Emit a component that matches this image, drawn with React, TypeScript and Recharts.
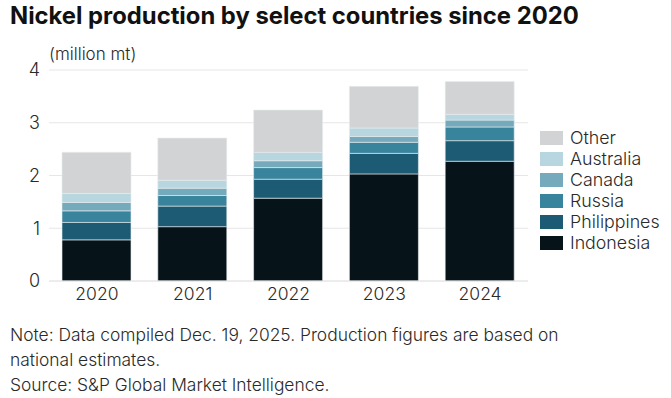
import { BarChart, Bar, XAxis, YAxis, CartesianGrid } from "recharts";

const years = ["2020", "2021", "2022", "2023", "2024"];
const indonesia = [0.78, 1.03, 1.57, 2.03, 2.27];
const philippines = [0.33, 0.39, 0.36, 0.39, 0.39];
const russia = [0.22, 0.2, 0.22, 0.21, 0.26];
const canada = [0.16, 0.14, 0.13, 0.11, 0.13];
const australia = [0.17, 0.15, 0.16, 0.16, 0.11];
const other = [0.78, 0.8, 0.8, 0.79, 0.62];
const yTicks = [0, 1, 2, 3, 4];

const series = [
  { key: "Indonesia", values: indonesia, color: "#061419" },
  { key: "Philippines", values: philippines, color: "#1d5a73" },
  { key: "Russia", values: russia, color: "#38849c" },
  { key: "Canada", values: canada, color: "#74aabb" },
  { key: "Australia", values: australia, color: "#b7d6df" },
  { key: "Other", values: other, color: "#d2d3d5" },
];

const data = years.map((year, i) => {
  const row: Record<string, string | number> = { year };
  series.forEach((s) => {
    row[s.key] = s.values[i];
  });
  return row;
});

const font = "Inter, Roboto, sans-serif";
const textColor = "#2a2a2a";

export default function App() {
  return (
    <div
      style={{
        position: "absolute",
        left: 0,
        top: 0,
        width: 671,
        height: 398,
        background: "#fff",
        fontFamily: font,
        color: textColor,
        fontWeight: 300,
        overflow: "hidden",
      }}
    >
      <div
        style={{
          position: "absolute",
          left: 10,
          top: 1,
          fontSize: 23.8,
          fontWeight: 700,
          color: "#111",
          whiteSpace: "nowrap",
        }}
      >
        Nickel production by select countries since 2020
      </div>
      <div style={{ position: "absolute", left: 49, top: 44, fontSize: 17 }}>
        (million mt)
      </div>

      <div style={{ position: "absolute", left: 0, top: 0 }}>
        <BarChart
          width={540}
          height={310}
          data={data}
          margin={{ top: 70, right: 12, left: 0, bottom: 0 }}
          barSize={69}
        >
          <CartesianGrid vertical={false} stroke="#e6e6e6" strokeWidth={1} />
          <XAxis
            dataKey="year"
            height={29}
            tickLine={false}
            axisLine={{ stroke: "#e6e6e6" }}
            tickSize={0}
            tickMargin={7}
            tick={{ fill: textColor, fontSize: 17.5, fontWeight: 300, fontFamily: font }}
          />
          <YAxis
            width={49}
            domain={[0, 4]}
            ticks={yTicks}
            tickLine={false}
            axisLine={false}
            tickSize={0}
            tickMargin={9}
            tick={{ fill: textColor, fontSize: 18, fontWeight: 300, fontFamily: font }}
          />
          {series.map((s) => (
            <Bar
              key={s.key}
              dataKey={s.key}
              stackId="a"
              fill={s.color}
              stroke="#e8ecee"
              strokeWidth={0.6}
              isAnimationActive={false}
            />
          ))}
        </BarChart>
      </div>

      <div style={{ position: "absolute", left: 540, top: 127 }}>
        {[...series].reverse().map((s) => (
          <div
            key={s.key}
            style={{ display: "flex", alignItems: "center", height: 21 }}
          >
            <div
              style={{ width: 23, height: 14, background: s.color, marginRight: 7 }}
            />
            <span style={{ fontSize: 17.8 }}>{s.key}</span>
          </div>
        ))}
      </div>

      <div
        style={{
          position: "absolute",
          left: 10,
          top: 322,
          fontSize: 17.4,
          lineHeight: "25px",
        }}
      >
        <div>Note: Data compiled Dec. 19, 2025. Production figures are based on</div>
        <div>national estimates.</div>
        <div>Source: S&amp;P Global Market Intelligence.</div>
      </div>
    </div>
  );
}
